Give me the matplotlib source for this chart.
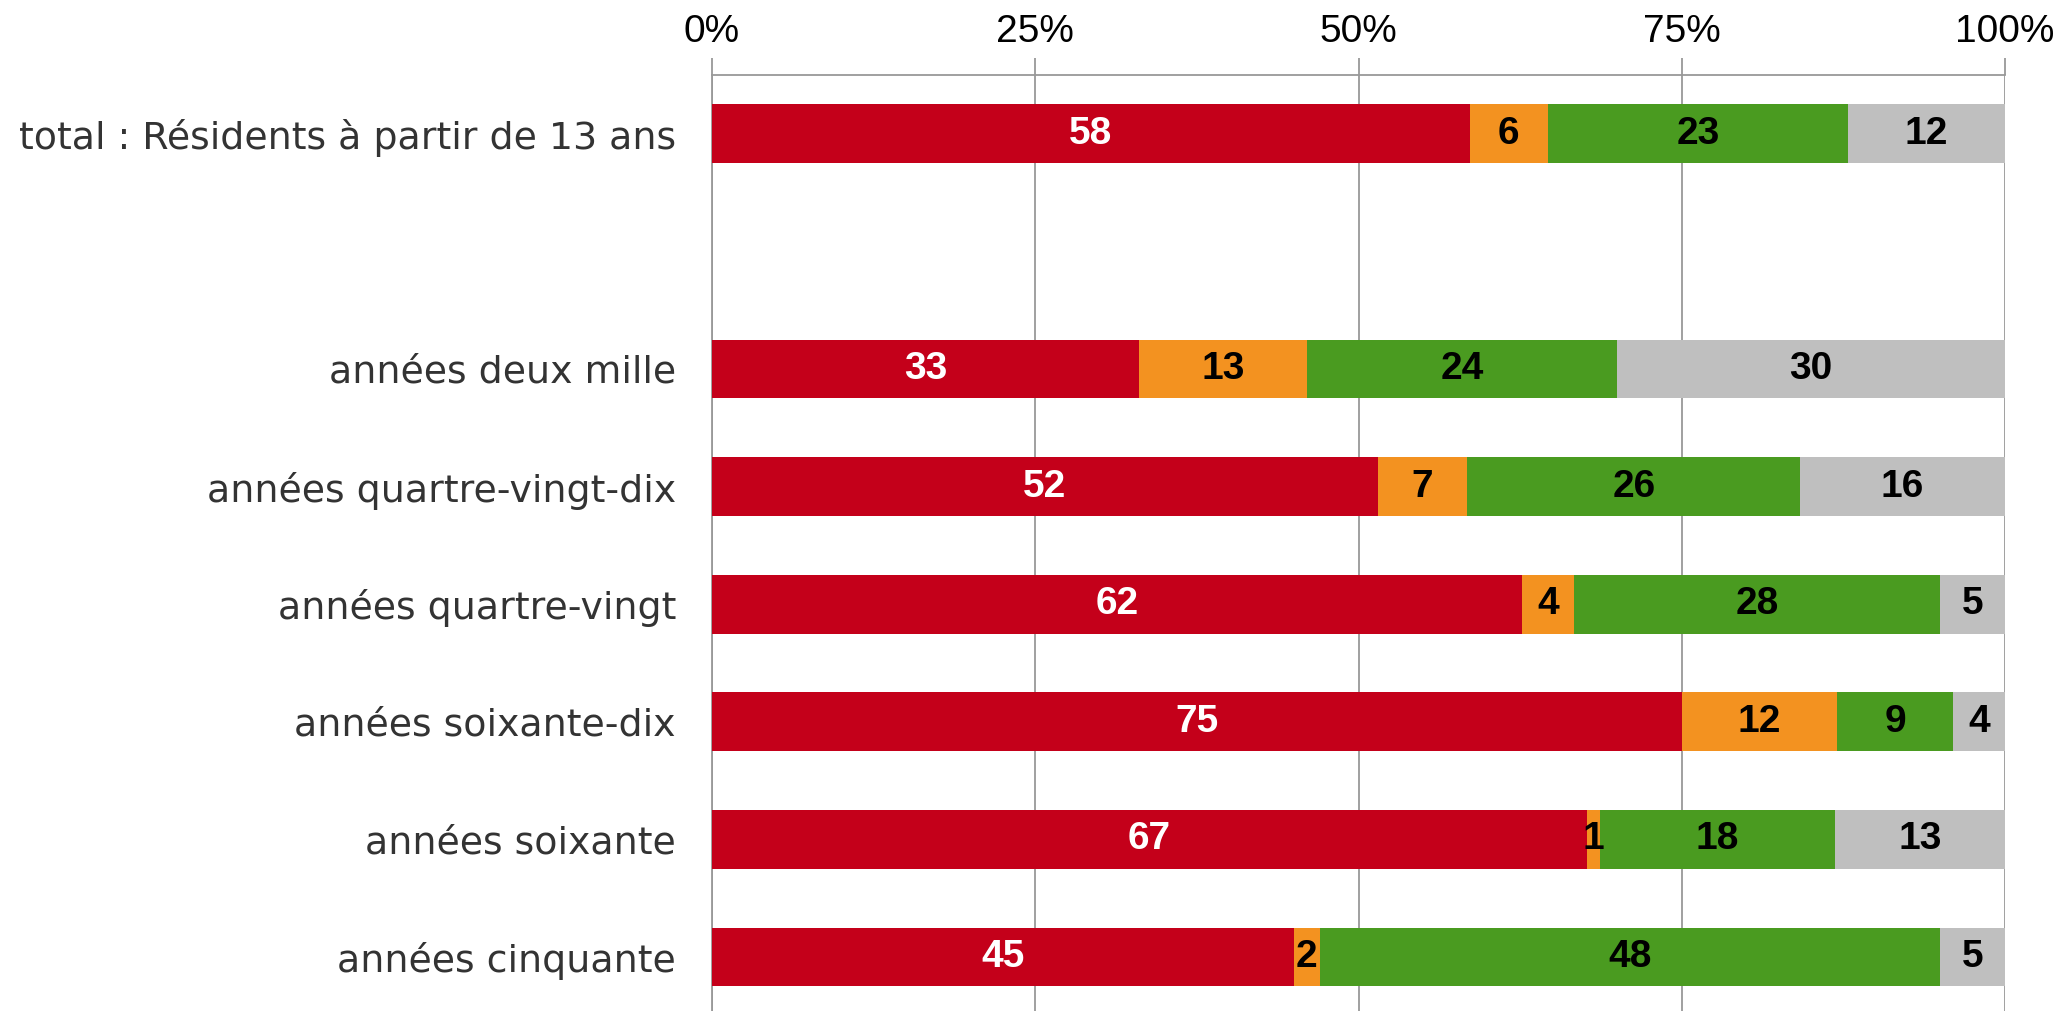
import numpy as np
import matplotlib
matplotlib.use("Agg")
import matplotlib.pyplot as plt

# categories (top to bottom) and their slot on the y axis
categories = ["total : Résidents à partir de 13 ans",
              "années deux mille",
              "années quartre-vingt-dix",
              "années quartre-vingt",
              "années soixante-dix",
              "années soixante",
              "années cinquante"]
slots = [0, 2, 3, 4, 5, 6, 7]

# the four answers, values as printed in the bars (%)
red = [58, 33, 52, 62, 75, 67, 45]
orange = [6, 13, 7, 4, 12, 1, 2]
green = [23, 24, 26, 28, 9, 18, 48]
grey = [12, 30, 16, 5, 4, 13, 5]

series = [red, orange, green, grey]
colors = ["#C4001A", "#F39220", "#4A9B20", "#BFBFBF"]
text_colors = ["white", "black", "black", "black"]

ticks = [0, 25, 50, 75, 100]
tick_labels = ["0%", "25%", "50%", "75%", "100%"]

vals = np.array(series, dtype=float)
shares = vals / vals.sum(axis=0) * 100

fig = plt.figure(figsize=(20.6, 10.11), dpi=100)
ax = fig.add_axes([712 / 2060, 0, (2005 - 712) / 2060, 1 - 75 / 1011])

left = np.zeros(len(slots))
for i in range(len(series)):
    ax.barh(slots, shares[i], left=left, height=0.5, color=colors[i],
            edgecolor="none", zorder=3)
    for y, l, w, v in zip(slots, left, shares[i], vals[i]):
        ax.text(l + w / 2, y, "%d" % v, ha="center", va="center",
                color=text_colors[i], fontsize=28, fontweight="bold",
                family="Liberation Sans", zorder=4)
    left += shares[i]

ax.set_xlim(0, 100)
ax.set_ylim(7.46, -0.5)
ax.set_yticks(slots)
ax.set_yticklabels(categories, fontsize=27.3, color="#333333", family="DejaVu Sans")
ax.set_xticks(ticks)
ax.set_xticklabels(tick_labels, fontsize=28, family="Liberation Sans")
ax.xaxis.tick_top()
ax.tick_params(axis="x", direction="out", length=12, width=1.3, color="#999999",
               pad=6)
ax.tick_params(axis="y", length=0, pad=26)
ax.grid(axis="x", color="#999999", linewidth=1.3, zorder=0)
for s in ["right", "bottom"]:
    ax.spines[s].set_visible(False)
for s in ["top", "left"]:
    ax.spines[s].set_color("#999999")
    ax.spines[s].set_linewidth(1.3)

fig.savefig("out.png", dpi=100)
